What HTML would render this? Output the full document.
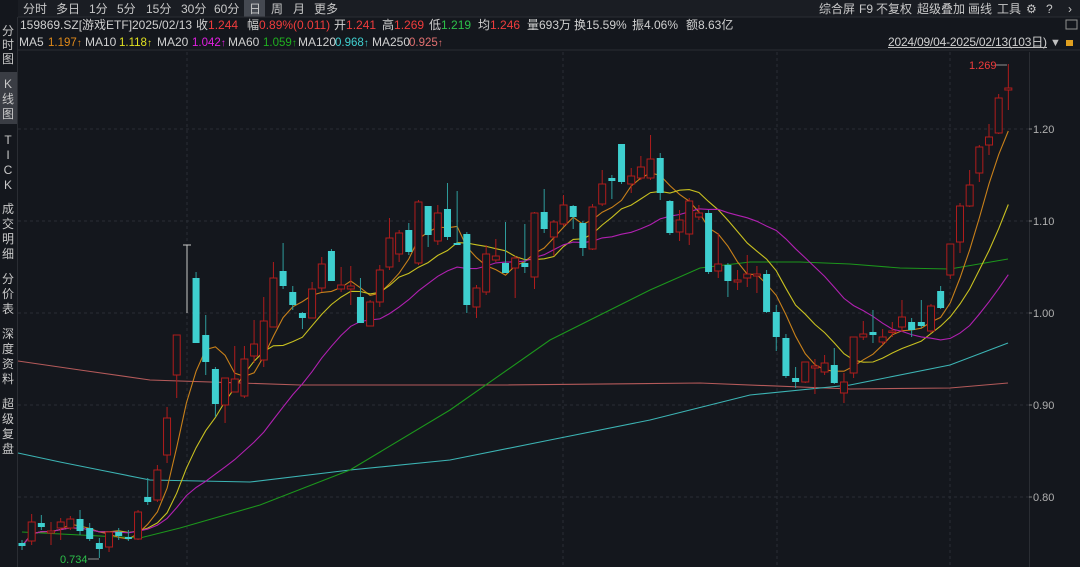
<!DOCTYPE html>
<html><head><meta charset="utf-8">
<style>
body{margin:0;background:#14171d;width:1080px;height:567px;overflow:hidden;font-family:"Liberation Sans","Noto Sans CJK SC",sans-serif;}
svg{position:absolute;left:0;top:0}
</style></head><body>
<svg id="s" width="1080" height="567" xmlns="http://www.w3.org/2000/svg" font-family="Liberation Sans, Noto Sans CJK SC, sans-serif">
<rect width="1080" height="567" fill="#14171d"/>
<rect x="18" y="0" width="1062" height="17" fill="#1a1d23"/>
<rect x="244" y="0" width="21" height="17" fill="#454951"/>
<g font-size="12" fill="#c8c8c8">
<text x="23" y="13">分时</text><text x="56" y="13">多日</text><text x="89" y="13">1分</text><text x="117" y="13">5分</text><text x="146" y="13">15分</text><text x="181" y="13">30分</text><text x="214" y="13">60分</text><text x="249" y="13">日</text><text x="271" y="13">周</text><text x="293" y="13">月</text><text x="314" y="13">更多</text>
<text x="819" y="13">综合屏</text><text x="859" y="13">F9</text><text x="876" y="13">不复权</text><text x="917" y="13">超级叠加</text><text x="968" y="13">画线</text><text x="997" y="13">工具</text>
<text x="1026" y="13">⚙</text><text x="1046" y="13">?</text><text x="1068" y="13">›</text>
</g>
<line x1="18" y1="17" x2="1080" y2="17" stroke="#2a2d33"/>
<g font-size="12">
<text x="20" y="29" fill="#d0d0d0">159869.SZ[游戏ETF]</text>
<text x="132" y="29" fill="#d0d0d0">2025/02/13</text>
<text x="196" y="29" fill="#d0d0d0">收<tspan fill="#f03c3c">1.244</tspan></text>
<text x="247" y="29" fill="#d0d0d0">幅<tspan fill="#f03c3c">0.89%(0.011)</tspan></text>
<text x="334" y="29" fill="#d0d0d0">开<tspan fill="#f03c3c">1.241</tspan></text>
<text x="382" y="29" fill="#d0d0d0">高<tspan fill="#f03c3c">1.269</tspan></text>
<text x="429" y="29" fill="#d0d0d0">低<tspan fill="#2cc04a">1.219</tspan></text>
<text x="478" y="29" fill="#d0d0d0">均<tspan fill="#f03c3c">1.246</tspan></text>
<text x="527" y="29" fill="#d0d0d0">量693万</text>
<text x="574" y="29" fill="#d0d0d0">换15.59%</text>
<text x="632" y="29" fill="#d0d0d0">振4.06%</text>
<text x="686" y="29" fill="#d0d0d0">额8.63亿</text>
</g>
<g font-size="12">
<text x="19" y="46" fill="#d0d0d0">MA5</text><text x="48" y="46" font-size="11.5" fill="#e08a1a">1.197<tspan font-size="10">↑</tspan></text>
<text x="85" y="46" fill="#d0d0d0">MA10</text><text x="119" y="46" font-size="11.5" fill="#e0e020">1.118<tspan font-size="10">↑</tspan></text>
<text x="157" y="46" fill="#d0d0d0">MA20</text><text x="192" y="46" font-size="11.5" fill="#e020e0">1.042<tspan font-size="10">↑</tspan></text>
<text x="228" y="46" fill="#d0d0d0">MA60</text><text x="263" y="46" font-size="11.5" fill="#20b020">1.059<tspan font-size="10">↑</tspan></text>
<text x="298" y="46" fill="#d0d0d0">MA120</text><text x="335" y="46" font-size="11.5" fill="#40d0d0">0.968<tspan font-size="10">↑</tspan></text>
<text x="372" y="46" fill="#d0d0d0">MA250</text><text x="409" y="46" font-size="11.5" fill="#e07070">0.925<tspan font-size="10">↑</tspan></text>
<text x="888" y="46" fill="#d0d0d0" textLength="159">2024/09/04-2025/02/13(103日)</text>
</g>
<rect x="888" y="47" width="159" height="1" fill="#c0c0c0"/>
<text x="1050" y="46" font-size="11" fill="#c0c0c0">▼</text>
<rect x="1066" y="40" width="7" height="6" fill="#e0a020"/>
<rect x="1066" y="20" width="11" height="9" fill="none" stroke="#909090"/>
<line x1="18" y1="50" x2="1080" y2="50" stroke="#2a2d33"/>
<line x1="17.5" y1="17" x2="17.5" y2="567" stroke="#2a2d33"/>
<rect x="0" y="72" width="17" height="52" fill="#3a3d44"/>
<g font-size="12" fill="#c8c8c8" text-anchor="middle">
<text x="8" y="35">分</text><text x="8" y="49">时</text><text x="8" y="63">图</text>
<text x="8" y="88">K</text><text x="8" y="103">线</text><text x="8" y="118">图</text>
<text x="8" y="144">T</text><text x="8" y="159">I</text><text x="8" y="174">C</text><text x="8" y="189">K</text>
<text x="8" y="213">成</text><text x="8" y="228">交</text><text x="8" y="243">明</text><text x="8" y="258">细</text>
<text x="8" y="283">分</text><text x="8" y="298">价</text><text x="8" y="313">表</text>
<text x="8" y="338">深</text><text x="8" y="353">度</text><text x="8" y="368">资</text><text x="8" y="383">料</text>
<text x="8" y="408">超</text><text x="8" y="423">级</text><text x="8" y="438">复</text><text x="8" y="453">盘</text>
</g>
<g stroke="#2a2e35" stroke-dasharray="3,3">
<line x1="18" y1="129" x2="1029" y2="129"/><line x1="18" y1="221" x2="1029" y2="221"/><line x1="18" y1="313" x2="1029" y2="313"/><line x1="18" y1="405" x2="1029" y2="405"/><line x1="18" y1="497" x2="1029" y2="497"/>
<line x1="187" y1="52" x2="187" y2="567"/><line x1="563" y1="52" x2="563" y2="567"/><line x1="777" y1="52" x2="777" y2="567"/><line x1="950" y1="52" x2="950" y2="567"/>
</g>
<line x1="1029.5" y1="52" x2="1029.5" y2="567" stroke="#2a2d33"/>
<g font-size="11" fill="#b0b0b0">
<text x="1033" y="133">1.20</text><text x="1033" y="225">1.10</text><text x="1033" y="317">1.00</text><text x="1033" y="409">0.90</text><text x="1033" y="501">0.80</text>
</g>
<g stroke="#808080"><line x1="1029" y1="129" x2="1032" y2="129"/><line x1="1029" y1="221" x2="1032" y2="221"/><line x1="1029" y1="313" x2="1032" y2="313"/><line x1="1029" y1="405" x2="1032" y2="405"/><line x1="1029" y1="497" x2="1032" y2="497"/></g>
<g fill="none" stroke-width="1.1">
<polyline stroke="#b45a5a" points="18,361 80,370 150,380 300,385 500,385 700,383 850,389 950,388 1008,383"/>
<polyline stroke="#3cb4b4" points="18,453 60,462 100,470 150,480 250,482 350,470 450,460 550,440 650,420 750,395 850,385 950,365 1008,343"/>
<polyline stroke="#1c961c" points="22,532 140,538 180,528 260,505 350,470 450,410 550,340 650,290 700,268 750,262 800,262 850,264 900,268 950,269 1008,259"/>
</g>
<g id="ma"></g>
<g id="c"></g>
<line x1="187" y1="245" x2="187" y2="313" stroke="#c8c8c8"/><line x1="183" y1="245" x2="191" y2="245" stroke="#c8c8c8"/>
<text x="969" y="69" font-size="11" fill="#f03c3c">1.269</text>
<line x1="996" y1="65" x2="1007" y2="65" stroke="#909090"/>
<text x="60" y="563" font-size="11" fill="#2cc04a">0.734</text>
<line x1="88" y1="559" x2="99" y2="559" stroke="#909090"/>
</svg>
<script>
var D=[[543,546,540,550,'d'],[522,541,514,545,'u'],[523,527,515,530,'d'],[531,533,522,545,'u'],[522,528,518,540,'u'],[519,528,516,530,'u'],[519,531,510,535,'d'],[528,539,523,541,'d'],[543,549,538,558,'d'],[532,547,531,552,'u'],[532,536,528,540,'d'],[537,539,530,541,'d'],[512,539,510,540,'u'],[497,502,478,505,'d'],[470,500,465,502,'u'],[418,455,407,463,'u'],[335,375,335,398,'u'],[290,290,290,290,'g'],[278,343,272,343,'d'],[335,362,315,375,'d'],[369,404,367,417,'d'],[378,405,378,423,'u'],[379,392,346,392,'u'],[359,396,346,398,'u'],[344,356,320,363,'u'],[321,360,297,367,'u'],[278,327,262,327,'u'],[271,286,243,289,'d'],[292,305,286,310,'d'],[313,318,312,329,'d'],[289,318,282,318,'u'],[264,288,257,292,'u'],[251,281,249,281,'d'],[285,289,267,292,'u'],[286,289,266,305,'u'],[297,323,278,323,'d'],[302,326,300,326,'u'],[270,302,265,307,'u'],[238,267,218,270,'u'],[233,254,230,262,'u'],[230,252,223,255,'d'],[202,263,200,265,'u'],[206,235,206,247,'d'],[213,241,205,245,'u'],[209,237,183,240,'d'],[243,245,191,245,'d'],[234,305,232,313,'d'],[288,307,285,318,'u'],[254,292,245,295,'u'],[256,260,239,262,'u'],[263,273,222,273,'d'],[258,268,256,298,'u'],[263,267,224,273,'d'],[213,277,212,289,'u'],[212,229,189,233,'d'],[222,237,220,256,'u'],[205,224,195,226,'u'],[206,217,205,229,'d'],[223,248,221,256,'d'],[207,249,204,250,'u'],[184,204,170,206,'u'],[178,181,175,199,'d'],[144,182,144,184,'d'],[176,184,168,193,'u'],[167,178,156,180,'u'],[159,178,135,180,'u'],[158,193,153,200,'d'],[201,233,200,235,'d'],[220,232,210,241,'u'],[201,234,198,245,'u'],[213,217,205,220,'u'],[213,272,210,274,'d'],[264,271,233,278,'u'],[265,281,263,297,'d'],[280,282,270,290,'u'],[274,278,255,287,'u'],[274,276,266,293,'u'],[274,312,270,313,'d'],[312,337,305,351,'d'],[338,376,334,378,'d'],[378,382,367,388,'d'],[362,382,362,383,'u'],[366,368,359,394,'u'],[363,372,355,375,'u'],[365,383,348,384,'d'],[382,393,373,403,'u'],[337,373,337,378,'u'],[334,337,321,340,'u'],[332,335,310,343,'d'],[337,342,329,345,'u'],[331,332,322,337,'u'],[317,327,300,332,'u'],[322,330,318,337,'d'],[322,326,300,328,'d'],[306,331,304,333,'u'],[291,308,286,309,'d'],[244,275,244,279,'u'],[206,242,203,253,'u'],[185,206,170,207,'u'],[147,173,145,182,'u'],[137,145,124,155,'u'],[98,133,94,134,'u'],[88,90,64,110,'u']];
var NS='http://www.w3.org/2000/svg';
function X(i){return 22+9.67*i;}
var closes=D.map(function(d){return d[4]=='u'?d[0]:(d[4]=='d'?d[1]:d[0]);});
var ma=document.getElementById('ma');
[[5,'#c8801a'],[10,'#c8c020'],[20,'#b020b0']].forEach(function(m){
 var pts=[];for(var i=0;i<D.length;i++){var s=0,n=0;for(var k=Math.max(0,i-m[0]+1);k<=i;k++){s+=closes[k];n++;}pts.push(X(i).toFixed(1)+','+(s/n).toFixed(1));}
 var p=document.createElementNS(NS,'polyline');p.setAttribute('points',pts.join(' '));p.setAttribute('fill','none');p.setAttribute('stroke',m[1]);p.setAttribute('stroke-width','1.1');ma.appendChild(p);});
var g=document.getElementById('c');
D.forEach(function(d,i){if(d[4]=='g')return;var x=X(i);var col=d[4]=='u'?'#b01c1c':'#3ecfcf';
 var l=document.createElementNS(NS,'line');l.setAttribute('x1',x);l.setAttribute('x2',x);l.setAttribute('y1',d[2]);l.setAttribute('y2',d[3]);l.setAttribute('stroke',d[4]=='u'?'#b01c1c':'#2e9c9c');g.appendChild(l);
 var r=document.createElementNS(NS,'rect');r.setAttribute('x',x-3.5);r.setAttribute('width',7);r.setAttribute('y',d[0]);r.setAttribute('height',Math.max(1.5,d[1]-d[0]));
 if(d[4]=='u'){r.setAttribute('fill','#14171d');r.setAttribute('stroke',col);}else{r.setAttribute('fill',col);}
 g.appendChild(r);});
</script>
</body></html>
